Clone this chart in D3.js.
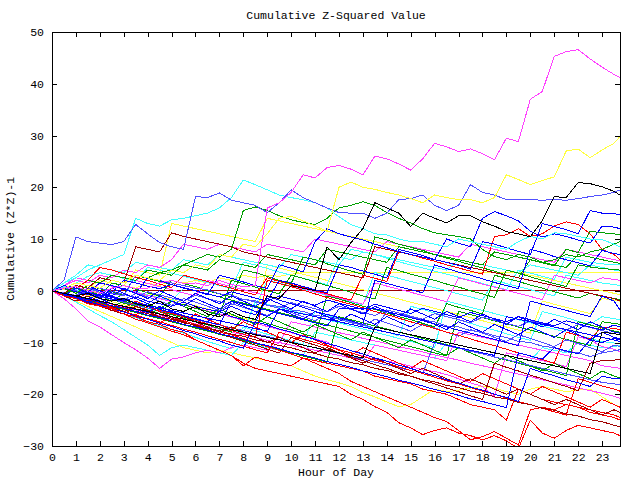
<!DOCTYPE html>
<html lang="en">
<head>
  <meta charset="UTF-8">
  <title>Cumulative Z-Squared Value</title>
  <script src="https://d3js.org/d3.v7.min.js"></script>
  <style>
    body { margin: 0; background: #fff; }
    svg text { font-family: "Liberation Mono", monospace; font-size: 11.5px; fill: #000; }
  </style>
</head>
<body>
  <script>
    // x positions (hour of day), half-hour samples
    const hours = [0,0.5,1,1.5,2,2.5,3,3.5,4,4.5,5,5.5,6,6.5,7,7.5,8,8.5,9,9.5,10,10.5,11,11.5,
      12,12.5,13,13.5,14,14.5,15,15.5,16,16.5,17,17.5,18,18.5,19,19.5,20,20.5,21,21.5,22,22.5,23,23.5,23.75];
    const xTicks = [0,1,2,3,4,5,6,7,8,9,10,11,12,13,14,15,16,17,18,19,20,21,22,23];
    const yTicks = [-30,-20,-10,0,10,20,30,40,50];

    // series
    const magenta1 = [0,0.5,0.8,0,-0.5,0.5,1,0.4,0.5,1.5,2,1.4, 1.5,1,2,1.2,0.8,1,16,17,19,22.4,21.8,23.8,
      24.2,23.5,22.4,26,25.5,24.5,23.3,25.5,28.5,27.8,26.9,27.4, 26.5,25.3,29.5,28.8,37,38.5,45.3,46.2,46.6,44.8,43.2,41.8, 41.2];
    const yellow1 = [0,0.5,1.5,1,0.5,2,1.5,3,2.5,2,4,3.5, 5,4.5,7,6.5,9,8.5,11,14,14.4,13.5,12.5,11.5,
      20,21,20,19.6,19,18.5,17.8,17,18.5,18,17.6,17.6, 17,18,22.4,21.5,20.5,21.3,22,27,27.4,25.7,27.2,28.5, 29.8];
    const cyan1 = [0,1.5,2.5,4,5,6,7,14,13,12.5,13.7,14, 14.5,15,16,18,21.4,20.5,19.5,18.5,18,17.6,17,16,
      14.3,12.8,12,11,10.8,10,9.5,9.5,9,8.5,10,9.5, 9,8.5,8,9.5,10.5,10,11.2,11,10.5,10,9.9,9, 8.5];
    const slate1 = [0,2,10.4,9.5,9.2,8.9,9.5,12.8,11,9.3,8.5,8, 18.2,18,18.9,17.5,17,16.5,15.1,17,19.5,18,17,16,
      15.1,15,15,14,15,17.6,17.8,18.5,16.5,15.5,16.5,20.5, 19,18.5,17.6,17.6,17.6,17.5,17.6,17.5,17.8,18.2,18.5,19, 19.5];
    const black1 = [0,-0.5,-1,-0.5,-1.5,-2,-1.5,-2.5,-3,-2,-3.5,-4, -3,-4.5,-5,-4,-5,-5.5,-1,-1.5,1,0.5,0,8.5,
      6,9.3,12,17,16,15,12.4,15,14,13.1,14.5,14.5, 13.3,12.5,11.4,11,10.4,13.5,18.2,18,20.9,20.7,20.1,19.2, 18.5];
    const green1 = [0,0.5,-0.5,1,0.5,2,1.5,3,2.5,3.5,4,5, 6,7,6.5,8,15.5,16.2,15.5,14.5,13.7,13.2,12.8,14,
      16,16.5,17.2,16.5,15.1,14,13.1,12,11.2,10.8,10.5,10, 8,6.6,6,7,6.5,5.5,6,7,6.5,7.5,8,9, 9.5];
    const red1 = [0,-1,-1.5,-2.5,-3,-3.5,-4.5,-5,-6,-6.5,-7.5,-8, -9.5,-10.5,-11.5,-12.5,-14,-15,-15.5,-16,-16.5,-17,-17.5,-18,
      -18.5,-20,-21,-22.4,-23.5,-25.5,-26.5,-27.8,-27,-26.5,-27.5,-28, -28.8,-28,-29,-30.5,-25,-27.5,-28.5,-27,-26,-26.5,-27,-27.5, -28];
    const red2 = [0,-0.5,-1.2,-2,-2.8,-3.5,-4,-4.8,-5.5,-6.2,-5,-5.8, -6.5,-7.2,-8,-8.5,-9.2,-10,-10.8,-11.5,-12.2,-13,-14,-15,
      -16,-17.5,-18.5,-19.5,-20.5,-21.5,-22.5,-23.5,-24.5,-25.3,-27,-28.8, -28.2,-27.2,-28.5,-29.8,-23,-22.5,-23,-22,-22.5,-23.5,-24,-24.5, -25];
    const red3 = [0,-0.8,-1.5,-2.2,-3,-3.8,-4.5,-5.5,-6.2,-7,-7.8,-8.5, -9.5,-10.5,-11.5,-12.5,-14.5,-12.8,-13.5,-14,-14.5,-13,-13.5,-14,
      -14.5,-15,-15.5,-16.5,-17,-17.5,-18,-19,-19.5,-20,-21,-22, -22.5,-23,-25,-19,-20,-21,-21.5,-22,-22.5,-23,-23.5,-24, -24.5];
    const yellowFlat = [0,0.5,-0.5,0.3,-0.5,0.5,1,0.5,1.5,1,2,1.5, 2,1.5,2.5,2,3,2.5,3,2.8,3.2,3.5,3.5,3.5,
      3.5,3.5,3.5,3.5,3.5,3.5,3.5,3.5,3.5,3.5,3.5,3.5, 3.5,3.5,3.5,3.5,3.5,3.5,3.5,3.5,3.5,3.5,3.5,3.5, 3.5];
    const darkRedFlat = [0,-0.5,-1,-0.5,0,0,0,0,0,0,0,0, 0,0,0,0,0,0,0,0,0,0,0,0,
      0,0,0,0,0,0,0,0,0,0,0,0, 0,0,0,0,0,0,0,0,0,0,0,0, 0];
    const blue1 = [0,-0.5,-1,-0.3,-1,-1.6,-2,-1.2,-2,-2.5,-3,-2.2, -3,-3.6,-4,-3,-4,-4.6,-2,2,1.5,0.8,0.2,-0.4,
      5,4.5,3.8,3.2,2.5,8,7.4,6.8,6,5.5,4.9,4.2, 9.5,9,8.3,7.6,7,13,12.4,11.8,11,15.5,15,14.9, 14.7];
    const blue2 = [0,1,0.5,-0.3,1.5,1,0.3,-0.5,2.5,2,1.2,0.5, 0,-0.8,3,2.4,1.7,1,0.4,5,4.4,3.6,9.5,12,
      11,10.4,9.8,9,8.3,7.6,7,6.5,6,10,9.2,8.5, 14,15.3,14.5,13.5,11.5,10.4,11,10.5,9.8,9.2,12.5,12.3, 12];
    const green2 = [0,-0.5,0.5,0,-0.8,1.5,1,0.3,-0.4,-1,2,1.4, 0.8,0,-0.6,-1.2,4,3.5,2.8,2,1.4,6.5,6,5.2,
      4.5,3.8,3.2,10.4,9.8,9,8.4,7.8,7,6.3,5.7,5, 4.4,3.8,3,2.5,6,5.4,4.8,8,7.4,11.5,11.2,11, 10.8];
    const blue3 = [0,-1,-1.5,-2.2,-1.5,-2.5,-3,-3.6,-4.2,-3,-4,-4.8, -5.5,-6,-4,-5,-5.6,-6.2,-1,-1.8,-2.5,-3.2,-4,-4.6,
      -5.2,-5.8,-6.5,2,1.4,0.8,0.2,-0.4,5,4.3,3.6,3, 2.3,1.6,1,0.4,8,7.4,6.6,6,5.4,4.8,7.8,7.2, 7];
    const red4 = [0,1,0.5,2,4.5,4,3.3,2.6,2,1.3,0.6,3, 2.4,1.8,1.1,0.5,-0.2,-0.8,2.5,1.8,1.2,0.6,0,-0.6,
      -1.2,-1.8,3,2.4,1.8,7.5,7,6.3,5.7,5,4.4,3.8, 3.2,10.5,10.8,12,10.5,11,12.5,13.3,12.8,11,8,7, 6];
    const cyan2 = [0,0.5,1.5,2.8,3.5,3,2.4,1.8,4.5,4,3.4,2.8, 2.2,1.6,1,0.4,5.5,5,4.3,3.6,3,2.4,1.8,1.2,
      6.5,6,7.5,7,6.3,5.6,5,4.4,3.8,3.2,2.6,2, 1.4,0.8,0.2,4,3.4,2.8,2.2,6.5,6,5.5,5.2,5, 5];
    const green3 = [0,-0.7,-1.4,-2,-1,-1.7,-2.4,-3,-3.7,-4.4,-2,-2.7, -3.4,-4,-4.7,2,1.4,0.7,0,-0.6,3,2.4,1.7,1,
      0.4,-0.3,-1,-1.6,4.5,3.9,3.2,2.6,2,1.3,0.7,0, -0.6,-1.3,4,3.4,2.7,2,1.4,0.8,5,4.6,4.3,4.1, 4];
    const magenta3 = [0,1,2.5,2,1.4,3,2.5,2,1.4,0.8,0.2,-0.4, -1,2,1.4,0.8,0.2,-0.4,-1,-1.6,1,0.4,-0.2,-0.8,
      -1.4,-2,-2.6,1.5,0.9,0.3,-0.3,-0.9,-1.5,-2.1,2.5,1.9, 1.3,0.7,0.1,-0.5,-1.1,-1.7,3,2.5,2,1.5,2.5,2.2, 2];
    const cyan3 = [0,0.5,-0.2,-0.8,1.5,1,0.4,-0.2,-0.8,-1.4,-2,0.5, 0,-0.6,-1.2,-1.8,-2.4,-3,2,1.5,0.9,0.3,-0.3,-0.9,
      -1.5,-2.1,-2.7,3.5,3,2.4,1.8,1.2,0.6,0,-0.6,-1.2, -1.8,2,1.4,0.8,0.2,-0.4,-1,3,2.5,2,1.5,1.2, 1];
    const green4 = [0,-0.5,-1.2,-1.8,-2.5,-3.2,-2,-2.6,-3.3,-4,-4.6,-5.3, -6,-6.6,-7.3,-8,-5,-5.6,-6.3,-7,-7.6,-8.3,-9,-1,
      -1.6,-2.3,-3,-3.6,-4.3,-5,-5.6,-6.3,-7,-2.5,-3.2,-3.8, -4.5,3,2.4,1.8,1.1,0.5,-0.2,-0.8,-1.4,-0.5,-1.1,-1.5, -1.7];
    const blue4 = [0,-0.6,-1.2,-1.8,-0.5,-1.1,-1.7,-2.3,-3,-3.6,-4.2,-4.8, -5.4,-6,-6.6,-2,-2.6,-3.2,-3.8,-4.4,-5,-5.6,-6.2,-6.8,
      -3.5,-3.5,-3.5,-3.5,-4,-4.6,-5.2,-5.8,-6.4,-7,-7.6,-8.2, -8.8,-9.4,-10,-10.6,-2,-2.6,-3.2,-3.8,-4.4,-5,-1,-2, -3.7];
    const cyan4 = [0,-0.8,-1.6,-2.3,-3,-3.8,-4.5,-5.2,-6,-6.8,-7.5,-8.2, -9,-9.8,-10.5,-11.2,-7,-7.7,-8.4,-9,-9.7,-10.4,-4,-4.7,
      -5.4,-6,-6.7,-7.4,-8,-8.7,-3,-3.6,-4.3,-5,-5.6,-6.3, -7,-7.6,-8.3,-9,-9.6,-4,-4.6,-5.2,-5.9,-6.5,-5,-5.4, -5.6];
    const red5 = [0,-1,-2,-1.5,-2.5,-3.2,-4,-4.7,-3,-3.7,-4.4,-5, -5.7,-6.4,-7,-7.7,-8.4,-9,2,1.4,0.8,0.1,-0.6,-1.3,
      -2,-2.6,-3.3,-4,-4.6,-5.3,-6,-6.6,-7.3,-8,-8.6,-9.3, -10,-10.6,-11.3,-12,-12.6,-13.3,-14,-8,-8.6,-9.3,-7,-7.3, -7.5];
    const blue5 = [0,-0.5,-1.1,-1.6,-2.2,-2.9,-3.4,-4,-4.7,-5.2,-5.8,-6.5, -7,-7.6,-8.3,-8.8,-9.4,-10.1,-10.6,-11.2,-11.9,-12.4,-13,-13.7,
      -14.2,-14.8,-15.5,-16,-16.6,-17.3,-17.8,-18.4,-19.1,-19.6,-20.2,-20.9, -21.4,-22,-22.6,-12,-12.6,-13.2,-11,-11.6,-12.2,-9.5,-10,-9.2, -9.5];
    const slate2 = [0,-0.4,-0.9,0.5,0,-0.5,-1,3,2.5,2,1.5,1, 0.5,0.2,-0.6,-0.8,-1.7,-1.9,-2.8,-3,-3.7,-4,-4.8,-5,
      -5.5,-6.2,-6.5,-7.3,-4,-4.6,-5,-5.7,-6,-6.8,-7,-7.7, -8,-8.7,-9,-9.8,-10,-10.7,-11,-11.8,-12,-12.7,-12,-11.6, -11.4];
    const darkRed1 = [0,-0.8,-1.5,-2.3,-3,-3.8,-4.5,-3,-3.8,-4.5,-5.3,-6, -6.8,-7.5,-8.3,-9,-9.8,-10.5,-11.3,-12,-9,-9.8,-10.5,-11.3,
      -12,-12.8,-13.5,-14.3,-15,-15.8,-16.5,-17.3,-18,-18.8,-19.5,-20.3, -21,-14,-14.8,-15.5,-16.3,-17,-17.8,-18.5,-19.3,-14,-13.5,-13.4, -13.3];
    const darkRed2 = [0,-0.5,1,0.5,2.5,2,1.5,8.5,8,7.5,11.2,10.5, 10,9.5,9,8.5,7.5,7,6.5,6,5.5,5,4.5,4,
      3.5,3,2.5,8.5,8,7.5,7,6.5,6,5.5,5,4.5, 4,3.5,3,2.5,2,1.5,1,0.5,0,-0.5,-1,-1.5, -2];
    const magenta2 = [0,-1.5,-3.5,-5.8,-7,-8.5,-10,-11.4,-13,-15,-13.2,-12.8, -12,-11.5,-12,-11,-10.5,-11,-11.5,-10,-10.5,-11,-11.5,-12,
      -12.5,-13,-13.5,-10.5,-11,-11.5,-12,-12.5,-13,-13.5,-8,-8.5, -9,-9.5,-10,-10.5,-11,-11.5,-12,-12.5,-13,-13.5,-14.5,-14.8, -15];
    const cyanLow = [0,-1,-2.2,-3.5,-4.8,-6,-7.5,-9,-10.5,-12.5,-11,-10.5, -11,-11.5,-12,-12.5,-10,-10.5,-11,-11.5,-12,-12.5,-8,-8.5,
      -9,-9.5,-10,-10.5,-11,-11.5,-12,-12.5,-13,-10,-10.5,-11, -11.5,-12,-12.5,-13,-13.5,-11,-11.5,-12,-10,-10.5,-11,-10.8, -10.5];
    const blue6 = [0,-0.7,-1.3,-2.1,-2.7,-3.5,-4.1,-4.9,-5.5,-6.3,-6.9,-7.7, -8.3,-9.1,-9.7,-10.5,-11.1,-6,-6.6,-7.4,-8,-8.8,-9.4,-10.2,
      -10.8,-11.6,-12.2,-13,-13.6,-14.4,-15,-15.8,-16.4,-17.2,-17.8,-18.6, -19.2,-20,-20.6,-21.4,-15,-15.8,-16.4,-17.2,-17.8,-18.5,-16.5,-17, -17];
    const darkRed3 = [0,-0.6,-1.1,-1.8,-2.2,-2.9,-3.3,-4,-4.4,-5.1,-5.5,-6.2, -6.6,-7.3,-7.7,-8.4,-8.8,-9.5,-9.9,-10.6,-11,-11.7,-12.1,-12.8,
      -13.2,-13.9,-14.3,-15,-15.4,-16.1,-16.5,-17.2,-17.6,-18.3,-18.7,-19.4, -19.8,-20.5,-20.9,-21.6,-22,-22.7,-23.1,-23.8,-24.2,-24.9,-25.3,-26, -26.3];
    const magenta4 = [0,0.6,0,-0.6,1.5,0.9,0.3,-0.3,-0.9,-1.5,-2.1,-2.7, -3.3,-3.9,-4.5,-5.1,-5.7,-6.3,-6.9,-7.5,-8.1,-8.7,-9.3,-9.9,
      -11.4,-12,-12.6,-13.3,-13.6,-14,-14.6,-15.3,-15.6,-16.2,-17,-17.8, -18.5,-20.5,-12,-12.5,-13,-13.5,-14,-14.7,-8.9,-9.5,-10.8,-11.3, -11.8];
    const magenta5 = [0,-0.5,-1,-1.6,-2.1,-2.6,-3.2,-3.7,-4.2,-4.8,-5.3,-5.8, -6.4,-6.9,-7.4,-8,-8.5,-9,-9.6,-10.1,-6,-6.5,-7,-7.6,
      -8.1,-8.6,-9.2,-9.7,-10.2,-10.8,-11.3,-11.8,-12.4,-12.9,-13.4,-14, -14.5,-15,-15.6,-16.1,-16.6,-17.2,-17.7,-18.2,-18.8,-19.3,-19.8,-20.4, -20.8];
    const red6 = [0,-0.7,-1.4,-2,-2.7,-3.4,-4,-4.7,-5.4,-6,-6.7,-7.4, -8,-8.7,-9.4,-10,-10.7,-11.4,-12,-8,-8.7,-9.4,-10,-10.7,
      -11.4,-12,-12.7,-13.4,-14,-14.7,-15.4,-16,-16.7,-17.4,-18,-18.7, -19.4,-20,-20.7,-21.4,-22,-22.7,-23.4,-24,-17,-17.7,-18.4,-19, -19.4];
    const slate3 = [0,0.5,0,-0.6,-1.1,-1.7,-2.2,-2.8,-3.3,-3.9,-4.4,-5, -5.5,-6.1,-6.6,-7.2,-7.7,-8.3,-8.8,-9.4,-9.9,-10.5,-11,-11.6,
      -12.1,-12.7,-13.2,-13.8,-14.3,-14.9,-15.4,-16,-10,-10.6,-11.1,-11.7, -12.2,-12.8,-13.3,-13.9,-14.4,-15,-15.5,-16.1,-16.6,-17.2,-17.7,-18, -18.2];
    const slate4 = [0,0.5,0,-0.6,0.5,-0.1,-0.7,-1.3,-0.2,-0.8,-1.4,-2, -0.9,-1.5,-2.1,-2.7,-1.6,-2.2,-2.8,-3.4,-2.3,-2.9,-3.5,-4.1,
      -3,-3.6,-4.2,-4.8,-3.7,-4.3,-4.9,-5.5,-4.4,-5,-5.6,-6.2, -5.1,-5.7,-6.3,-6.9,-5.8,-6.4,-7,-7.6,-6.5,-7.1,-7.7,-8.3, -8.5];
    const blue7 = [0,-0.5,-1,-1.5,-0.8,-1.3,-1.8,-2.3,-2.8,-3.3,-3.8,-4.3, -4.8,-5.3,-5.8,-6.3,-6.8,-7.3,-7.8,-3.5,-4,-4.5,-5,-5.5,
      -6,-6.5,-7,-7.5,-8,-8.5,-9,-9.5,-10,-10.5,-11,-11.5, -12,-12.5,-5,-5.5,-6,-6.5,-7,-7.5,-8,-8.5,-9,-9.5, -9.8];
    const blue8 = [0,0.4,-0.2,-0.7,-1.3,-0.3,2,1.5,0.9,0.4,1.2,0.6, 0,-0.6,-1.2,-0.2,-0.8,-1.4,-2,-1,-1.6,-2.2,-2.8,-1.8,
      -2.4,-3,-3.6,-2.6,-3.2,-3.8,-4.4,-3.4,-4,-4.6,-5.2,-4.2, -4.8,-5.4,-6,-5,-5.6,-6.2,-6.8,-5.8,-6.4,-7,-7.6,-6.6, -7];
    const green5 = [0,-0.6,-1.2,-1.8,-2.4,-3,-3.6,-4.2,-4.8,-5.4,-6,-6.6, -7.2,-7.8,-8.4,-9,-9.6,-10.2,-10.8,-11.4,-12,-12.6,-13.2,-13.8,
      -5,-5.6,-6.2,-6.8,-7.4,-8,-8.6,-9.2,-9.8,-10.4,-11,-11.6, -12.2,-12.8,-13.4,-14,-14.6,-15.2,-15.8,-16.4,-6,-6.6,-7.2,-7.8, -8];
    const green6 = [0,0.5,1.5,1,0.4,-0.2,-0.8,3,2.4,1.8,1.2,0.6, 0,-0.6,-1.2,-1.8,-2.4,-3,-3.6,-4.2,-4.8,-5.4,-6,-6.6,
      -7.2,-7.8,-8.4,-9,-9.6,-10.2,-10.8,-11.4,-12,-12.6,-4,-4.6, -5.2,-5.8,-6.4,-7,-7.6,-8.2,-8.8,-9.4,-10,-10.6,-6,-6.3, -6.5];
    const cyan5 = [0,0.8,0.2,-0.4,-1,-1.6,-2.2,-2.8,-3.4,-4,-4.6,-5.2, -5.8,-6.4,-7,-7.6,-8.2,-2,-2.6,-3.2,-3.8,-4.4,-5,-5.6,
      -6.2,-6.8,-7.4,-8,-8.6,-9.2,-9.8,-10.4,-11,-2,-2.6,-3.2, -3.8,-4.4,-5,-5.6,-6.2,-6.8,-7.4,-8,-8.6,-9.2,-9.8,-10.1, -10.3];
    const yellow4 = [0,0.3,-0.3,-0.9,-1.5,-2.1,-2.7,-3.3,-0.5,-1.1,-1.7,-2.3, -2.9,-3.5,-4.1,-4.7,-5.3,-5.9,5,4.4,3.8,3.2,2.6,2,
      1.4,0.8,0.2,-0.4,-1,-1.6,-2.2,-2.8,-3.4,-4,-4.6,-5.2, -5.8,-6.4,-7,-7.6,-8.2,-2,-2.6,-3.2,-3.8,-4.4,-1.5,-1.8, -2];
    const yellow5 = [0,0.5,1,0.5,2,1.5,1,4,3.5,3,13,12.5, 12,11.5,11,10.5,10,9.5,14,13.5,13,12.5,12,11.5,
      11,10.5,10,9.5,9,8.5,8,7.5,7,6.5,6,5.5, 5,4.5,4,3.5,3,2.5,2,1.5,1,0.5,0,-0.5, -0.8];
    const yellow2 = [0,-1,-2,-3,-4,-5,-6,-7,-8,-9,-10,-11, -11.5,-12,-11.5,-12,-12.5,-13,-13.5,-14,-14.5,-15.5,-16.5,-17.2,
      -17.8,-18.5,-19.7,-20.5,-21.5,-22.4,-22,-20.5,-19,-19.5,-19.2,-18.8, -18.5,-18.8,-19.5,-20,-19,-18.5,-19,-19.5,-19.2,-19,-20.5,-22, -22.4];
    const black2 = [0,-0.5,-1,-1.5,-2,-2.5,-3,-3.5,-4,-4.5,-5,-5.5, -6,-6.5,-7,-7.5,-8,-8.5,-9,-9.5,-10,-10.5,-11,-11.5,
      -12,-12.5,-13,-7,-7.5,-8,-8.5,-9,-9.5,-10,-10.5,-11, -11.5,-12,-12.5,-13,-13.5,-14,-14.5,-15,-15.5,-16,-8,-8.3, -8.5];
    const zig1 = [0,-1,0.5,-0.5,-1.5,0.5,-0.5,-1.5,-2.5,-1,-2,-3, -1.5,-2.5,-3.5,-2,-3,-4,-5,-3.5,-4.5,-5.5,-4,-5,
      -6,-4.5,-5.5,-6.5,-5,-6,-7,-5.5,-6.5,-7.5,-6,-7, -8,-6.5,-7.5,-8.5,-7,-8,-9,-7.5,-8.5,-9.5,-8,-9, -9.3];
    const zig2 = [0,0.5,-0.5,1,0,-1,0.5,-0.5,-1.5,0,-1,-2, -0.5,-1.5,-2.5,-1,-2,-3,-1.5,-2.5,-3.5,-2,-3,-4,
      -2.5,-3.5,-4.5,-3,-4,-5,-3.5,-4.5,-5.5,-4,-5,-6, -4.5,-5.5,-6.5,-5,-6,-7,-5.5,-6.5,-7.5,-6,-7,-8, -8.2];
    const zig3 = [0,-0.8,0.8,0,-1,-2,-0.5,-1.5,-2.5,-3.5,-2,-3, -4,-5,-3.5,-4.5,-5.5,-6.5,-5,-6,-7,-8,-6.5,-7.5,
      -8.5,-9.5,-8,-9,-10,-11,-9.5,-10.5,-11.5,-12.5,-11,-12, -13,-14,-12.5,-13.5,-14.5,-15.5,-14,-15,-16,-17,-15.5,-16.5, -16.8];
    const zig4 = [0,1,2,1.5,3,2.5,4,3.5,5,4.5,6,9, 8.5,8,9,8.5,8,7.5,9,8.5,8,7.5,10,9.5,
      9,8.5,8,7.5,9.5,9,8.5,8,7.5,7,6.5,9, 8.5,8,7.5,7,6.5,6,5.5,8,7.5,7,6.5,6, 5.8];
    const zig5 = [0,1.5,3,5,4.5,4,3.5,5.5,5,4.5,4,6, 5.5,5,7,6.5,6,5.5,5,4.5,7,6.5,6,5.5,
      5,8,7.5,7,6.5,6,5.5,5,4.5,4,6,5.5, 5,4.5,4,3.5,5,4.5,4,3.5,3,5,4.5,4, 3.8];
    const zig6 = [0,-0.5,-1.5,-0.5,-1.5,-2.5,-3.5,-2,-3,-4,-5,-6, -4.5,-5.5,-6.5,-7.5,-6,-7,-8,-9,-10,-8.5,-9.5,-10.5,
      -11.5,-12.5,-11,-12,-13,-14,-15,-13.5,-14.5,-15.5,-16.5,-17.5, -16,-17,-18,-19,-20,-18.5,-19.5,-20.5,-21.5,-22.5,-21,-22, -22.5];
    const zig7 = [0,-0.5,-1,0.5,-0.3,-1,-1.8,-0.5,-1.2,-2,-2.8,-1.5, -2.2,-3,-3.8,-2.5,-3.2,-4,-4.8,-3.5,-4.2,-5,-5.8,-4.5,
      -5.2,-6,-6.8,-5.5,-6.2,-7,-7.8,-6.5,-7.2,-8,-8.8,-7.5, -8.2,-9,-9.8,-8.5,-9.2,-10,-10.8,-9.5,-10.2,-11,-11.8,-10.5, -10.8];
    const zig8 = [0,1,0.5,2,1.5,3,2.5,2,4,3.5,3,5, 4.5,4,6,5.5,5,4.5,7,6.5,6,5.5,5,8,
      7.5,7,6.5,6,5.5,8.5,8,7.5,7,6.5,6,5.5, 5,7.5,7,6.5,6,5.5,5,4.5,7,6.5,6,5.5, 5.3];
    const zig9 = [0,-1,-2,-1,-2,-3,-4,-3,-4,-5,-6,-5, -6,-7,-8,-7,-8,-9,-10,-9,-10,-11,-12,-11,
      -12,-13,-14,-13,-14,-15,-16,-15,-16,-17,-18,-17, -18,-19,-20,-19,-20,-21,-22,-21,-22,-23,-24,-23, -23.5];

    const MAG = '#ff40ff', CYA = '#40ffff', YEL = '#ffff40', SLA = '#5050ff',
          BLU = '#0000ff', GRN = '#00a000', RED = '#ff0000', DRD = '#a00000', BLK = '#000000';

    const seriesList = [
      [darkRedFlat, DRD], [yellowFlat, YEL],
      [yellow2, YEL], [yellow4, YEL], [yellow5, YEL], [cyan2, CYA], [cyan3, CYA], [cyan4, CYA], [cyan5, CYA], [cyanLow, CYA],
      [zig5, CYA], [zig4, MAG],
      [magenta2, MAG], [magenta3, MAG], [magenta4, MAG], [magenta5, MAG],
      [green2, GRN], [green3, GRN], [green4, GRN], [green5, GRN], [green6, GRN], [zig3, GRN], [zig8, GRN],
      [slate2, SLA], [slate3, SLA], [slate4, SLA], [zig7, SLA],
      [red2, RED], [red3, RED], [red4, RED], [red5, RED], [red6, RED], [zig6, RED],
      [darkRed1, DRD], [darkRed2, DRD], [darkRed3, DRD], [zig9, DRD],
      [blue1, BLU], [blue2, BLU], [blue3, BLU], [blue4, BLU], [blue5, BLU], [blue6, BLU], [blue7, BLU], [blue8, BLU],
      [zig1, BLU], [zig2, BLU],
      [black2, BLK],
      [green1, GRN], [cyan1, CYA], [slate1, SLA], [yellow1, YEL], [red1, RED], [black1, BLK], [magenta1, MAG]
    ];

    const W = 640, H = 480;
    const plotL = 52, plotR = 620, plotT = 32, plotB = 446;

    const x = d3.scaleLinear().domain([0, 23.75]).range([plotL, plotR]);
    const y = d3.scaleLinear().domain([-30, 50]).range([plotB, plotT]);

    const svg = d3.select('body').append('svg')
      .attr('width', W)
      .attr('height', H)
      .style('background', '#fff');

    svg.append('defs').append('clipPath')
      .attr('id', 'plot')
      .append('rect')
      .attr('x', plotL).attr('y', plotT)
      .attr('width', plotR - plotL).attr('height', plotB - plotT);

    const line = d3.line()
      .defined(d => d != null)
      .x((d, i) => x(hours[i]))
      .y(d => y(d));

    svg.append('g')
      .attr('clip-path', 'url(#plot)')
      .selectAll('path')
      .data(seriesList)
      .join('path')
      .attr('d', d => line(d[0]))
      .attr('fill', 'none')
      .attr('stroke', d => d[1])
      .attr('stroke-width', 1)
      .attr('shape-rendering', 'crispEdges');

    // axes, ticks pointing inwards on all four sides
    const styleAxis = g => {
      g.select('.domain').remove();
      g.selectAll('line').attr('stroke', '#000').attr('shape-rendering', 'crispEdges');
      g.selectAll('text')
        .attr('font-family', '"Liberation Mono", monospace')
        .attr('font-size', 11.5)
        .attr('fill', '#000');
    };

    svg.append('g')
      .attr('transform', `translate(0,${plotB})`)
      .call(d3.axisBottom(x).tickValues(xTicks).tickSize(-5).tickPadding(7))
      .call(styleAxis);

    svg.append('g')
      .attr('transform', `translate(0,${plotT})`)
      .call(d3.axisTop(x).tickValues(xTicks).tickSize(-5).tickFormat(''))
      .call(styleAxis);

    svg.append('g')
      .attr('transform', `translate(${plotL},0)`)
      .call(d3.axisLeft(y).tickValues(yTicks).tickSize(-5).tickPadding(8))
      .call(styleAxis);

    svg.append('g')
      .attr('transform', `translate(${plotR},0)`)
      .call(d3.axisRight(y).tickValues(yTicks).tickSize(-5).tickFormat(''))
      .call(styleAxis);

    // frame
    svg.append('rect')
      .attr('x', plotL + 0.5).attr('y', plotT + 0.5)
      .attr('width', plotR - plotL).attr('height', plotB - plotT)
      .attr('fill', 'none')
      .attr('stroke', '#000')
      .attr('shape-rendering', 'crispEdges');

    svg.append('text')
      .attr('x', (plotL + plotR) / 2)
      .attr('y', 19)
      .attr('text-anchor', 'middle')
      .text('Cumulative Z-Squared Value');

    svg.append('text')
      .attr('x', (plotL + plotR) / 2)
      .attr('y', 476)
      .attr('text-anchor', 'middle')
      .text('Hour of Day');

    svg.append('text')
      .attr('transform', `translate(14,${(plotT + plotB) / 2}) rotate(-90)`)
      .attr('text-anchor', 'middle')
      .text('Cumulative (Z*Z)-1');
  </script>
</body>
</html>
